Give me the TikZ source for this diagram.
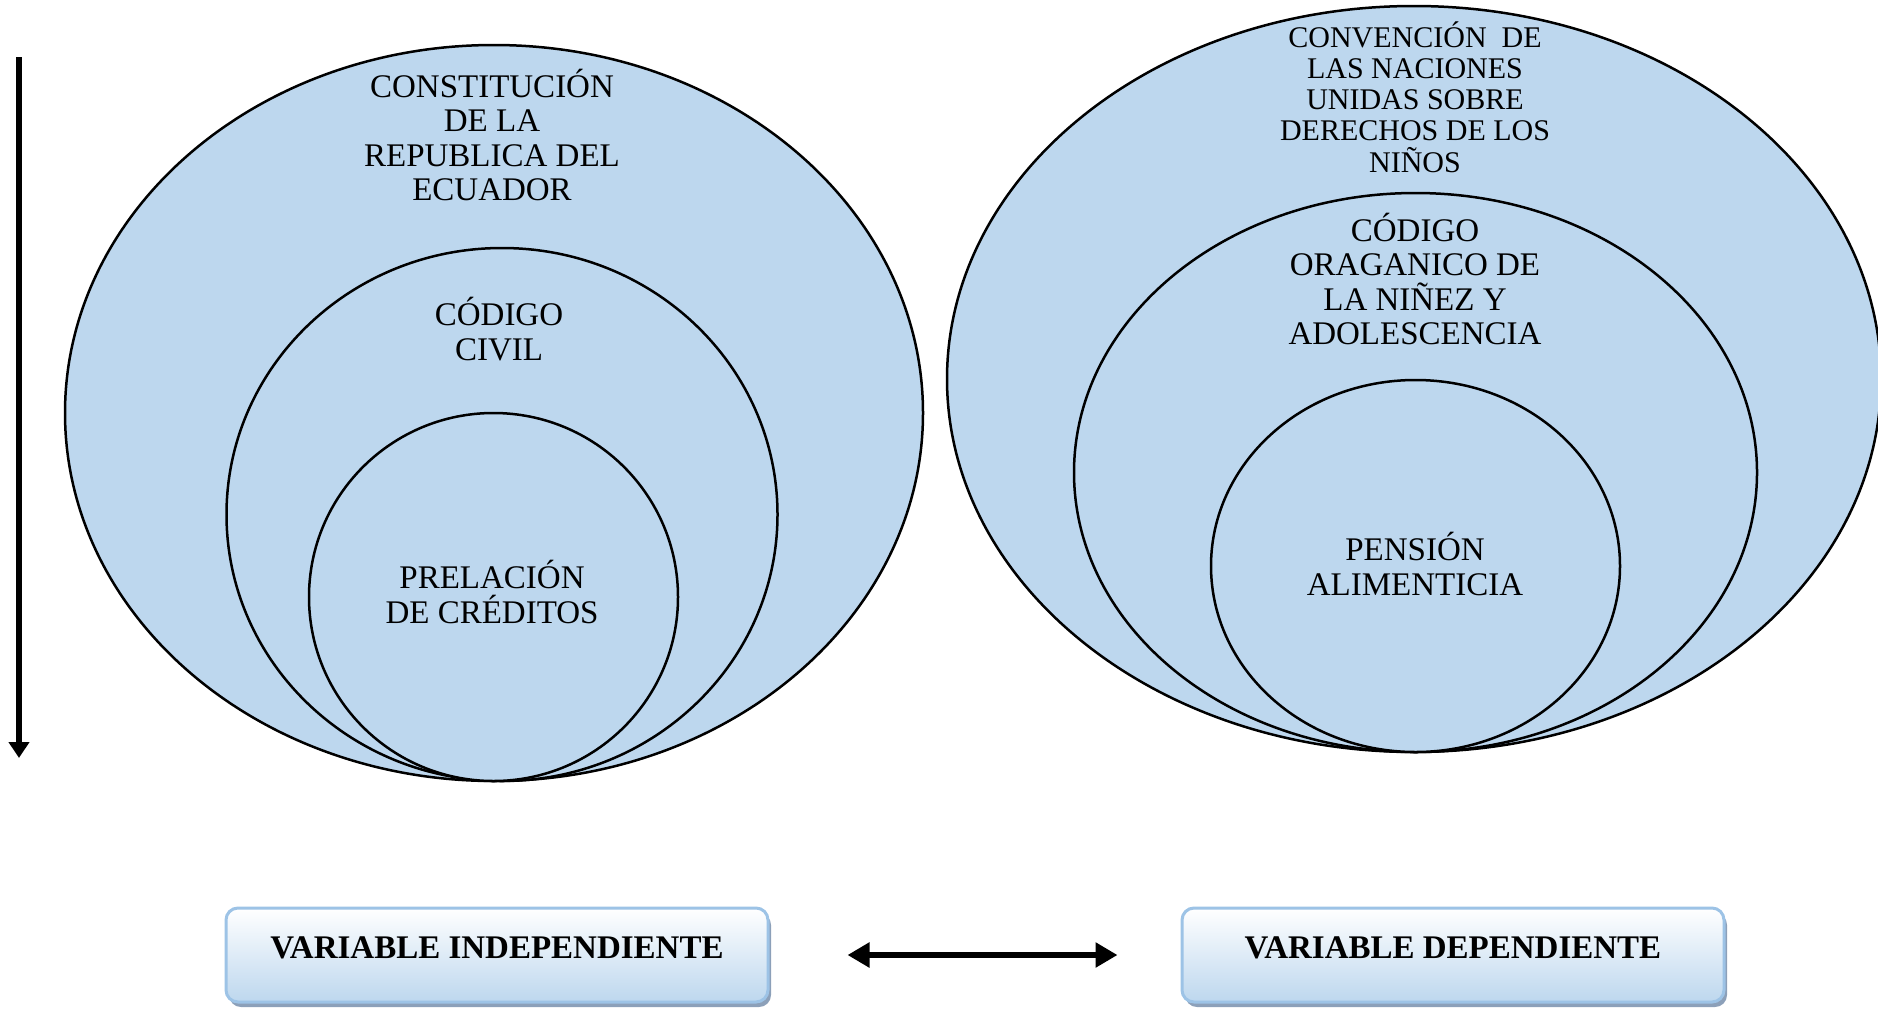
\documentclass[tikz,border=0pt]{standalone}
\usepackage{fontspec}
\setmainfont{Liberation Serif}
\usetikzlibrary{shapes.geometric,arrows.meta,shadows}
\definecolor{lblue}{RGB}{189,215,238}
\definecolor{bborder}{RGB}{157,195,230}
\definecolor{bshadow}{RGB}{140,160,185}
\tikzset{
  oval/.style={ellipse, draw=black, line width=2.5pt, fill=lblue, inner sep=0pt},
  lbl/.style={align=center, font=\fontsize{33}{34.5}\selectfont, inner sep=0pt},
  lblsmall/.style={align=center, font=\fontsize{30}{31.2}\selectfont, inner sep=0pt},
  varbox/.style={draw=bborder, line width=3pt, rounded corners=12pt,
    top color=white, bottom color=lblue, minimum width=542pt, minimum height=94pt,
    font=\bfseries\fontsize{33}{34}\selectfont,
    drop shadow={shadow xshift=3pt, shadow yshift=-5pt, fill=bshadow, opacity=1}},
  dblarrow/.style={line width=6pt, {Triangle[length=22pt,width=24pt]}-{Triangle[length=22pt,width=24pt]}}
}
\begin{document}
\begin{tikzpicture}[x=1pt,y=-1pt]
\useasboundingbox (0,0) rectangle (1878,1010);
% left set
\node[oval, minimum width=858pt, minimum height=736pt] (outerL) at (494,413) {};
\node[oval, minimum width=551pt, minimum height=533pt] (midL) at (502,514.5) {};
\node[oval, minimum width=369pt, minimum height=368pt] (innerL) at (493.5,597) {};
\node[lbl] (tOuterL) at (492,135) {CONSTITUCIÓN\\DE LA\\REPUBLICA DEL\\ECUADOR};
\node[lbl] (tMidL) at (499,329) {CÓDIGO\\CIVIL};
\node[lbl] (tInnerL) at (492,592) {PRELACIÓN\\DE CRÉDITOS};
% right set
\node[oval, minimum width=934pt, minimum height=746pt] (outerR) at (1414,379) {};
\node[oval, minimum width=683pt, minimum height=559pt] (midR) at (1415.5,472.5) {};
\node[oval, minimum width=409pt, minimum height=372pt] (innerR) at (1415.5,566) {};
\node[lblsmall] (tOuterR) at (1415,97) {CONVENCIÓN\ \ DE\\LAS NACIONES\\UNIDAS SOBRE\\DERECHOS DE LOS\\NIÑOS};
\node[lbl] (tMidR) at (1415,279) {CÓDIGO\\ORAGANICO DE\\LA NIÑEZ Y\\ADOLESCENCIA};
\node[lbl] (tInnerR) at (1415,564) {PENSIÓN\\ALIMENTICIA};
% vertical arrow
\coordinate (vTop) at (19,57);
\coordinate (vBot) at (19,758);
\draw[line width=6.5pt, -{Triangle[length=16pt,width=20pt]}] (vTop) -- (vBot);
% boxes
\node[varbox] (boxL) at (497,955) {\raisebox{14pt}{VARIABLE INDEPENDIENTE}};
\node[varbox] (boxR) at (1453,955) {\raisebox{14pt}{VARIABLE DEPENDIENTE}};
\draw[dblarrow, shorten <=78pt, shorten >=63pt] (boxL.east) -- (boxR.west);
\end{tikzpicture}
\end{document}
